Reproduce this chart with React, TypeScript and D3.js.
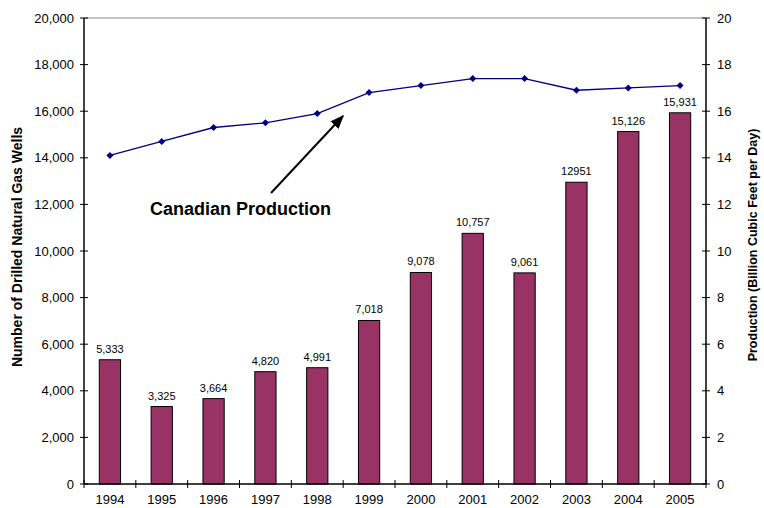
import React from "react";
import * as d3 from "d3";

const years = ["1994", "1995", "1996", "1997", "1998", "1999", "2000", "2001", "2002", "2003", "2004", "2005"];
const wells = [5333, 3325, 3664, 4820, 4991, 7018, 9078, 10757, 9061, 12951, 15126, 15931];
const wellLabels = ["5,333", "3,325", "3,664", "4,820", "4,991", "7,018", "9,078", "10,757", "9,061", "12951", "15,126", "15,931"];
const production = [14.1, 14.7, 15.3, 15.5, 15.9, 16.8, 17.1, 17.4, 17.4, 16.9, 17.0, 17.1];
const leftTicks = [0, 2000, 4000, 6000, 8000, 10000, 12000, 14000, 16000, 18000, 20000];
const rightTicks = [0, 2, 4, 6, 8, 10, 12, 14, 16, 18, 20];

const W = 764;
const H = 508;
const left = 84;
const right = 706;
const top = 18;
const bottom = 484;
const FONT = "'Liberation Sans', Arial, sans-serif";

export default function App() {
  const x = d3.scaleBand<string>().domain(years).range([left, right]);
  const yL = d3.scaleLinear().domain([0, 20000]).range([bottom, top]);
  const yR = d3.scaleLinear().domain([0, 20]).range([bottom, top]);
  const barW = x.bandwidth() * 0.41;
  const fmt = d3.format(",");
  const line = d3
    .line<number>()
    .x((_, i) => (x(years[i]) as number) + x.bandwidth() / 2)
    .y((d) => yR(d));

  const boundaries = d3.range(years.length + 1).map((i) => left + i * x.step());

  return (
    <svg width={W} height={H} style={{ position: "absolute", left: 0, top: 0 }} fontFamily={FONT}>
      <defs>
        <marker id="arrowHead" viewBox="0 0 10 10" refX="9" refY="5" markerWidth="7" markerHeight="7" orient="auto">
          <path d="M0,1 L10,5 L0,9 Z" fill="#000" />
        </marker>
      </defs>
      <rect width={W} height={H} fill="#fff" />
      {/* plot frame top line */}
      <line x1={left} x2={right} y1={top} y2={top} stroke="#888" strokeWidth={1} />

      {/* bars */}
      {wells.map((v, i) => {
        const cx = (x(years[i]) as number) + x.bandwidth() / 2;
        return (
          <g key={years[i]}>
            <rect
              x={cx - barW / 2}
              y={yL(v)}
              width={barW}
              height={bottom - yL(v)}
              fill="#993366"
              stroke="#000"
              strokeWidth={1}
            />
            <text x={cx} y={yL(v) - 7} textAnchor="middle" fontSize={11} fill="#000">
              {wellLabels[i]}
            </text>
          </g>
        );
      })}

      {/* production line */}
      <path d={line(production) || ""} fill="none" stroke="#000080" strokeWidth={1.3} />
      {production.map((v, i) => {
        const cx = (x(years[i]) as number) + x.bandwidth() / 2;
        const cy = yR(v);
        return (
          <path
            key={"m" + i}
            d={`M${cx},${cy - 3.5} L${cx + 3.5},${cy} L${cx},${cy + 3.5} L${cx - 3.5},${cy} Z`}
            fill="#000080"
          />
        );
      })}

      {/* left axis */}
      <line x1={left} x2={left} y1={top} y2={bottom} stroke="#444" strokeWidth={2} />
      {leftTicks.map((t) => (
        <g key={"l" + t}>
          <line x1={left - 4} x2={left + 4} y1={yL(t)} y2={yL(t)} stroke="#000" />
          <text x={left - 10} y={yL(t) + 4.5} textAnchor="end" fontSize={13} fill="#000">
            {fmt(t)}
          </text>
        </g>
      ))}

      {/* right axis */}
      <line x1={right} x2={right} y1={top} y2={bottom} stroke="#000" strokeWidth={1.5} />
      {rightTicks.map((t) => (
        <g key={"r" + t}>
          <line x1={right - 4} x2={right + 4} y1={yR(t)} y2={yR(t)} stroke="#000" />
          <text x={right + 11} y={yR(t) + 4.5} textAnchor="start" fontSize={13} fill="#000">
            {t}
          </text>
        </g>
      ))}

      {/* x axis */}
      <line x1={left} x2={right} y1={bottom} y2={bottom} stroke="#000" strokeWidth={1.5} />
      {boundaries.map((b, i) => (
        <line key={"xt" + i} x1={b} x2={b} y1={bottom - 4} y2={bottom + 4} stroke="#000" />
      ))}
      {years.map((yr) => (
        <text
          key={"xl" + yr}
          x={(x(yr) as number) + x.bandwidth() / 2}
          y={504}
          textAnchor="middle"
          fontSize={13}
          fill="#000"
        >
          {yr}
        </text>
      ))}

      {/* axis titles */}
      <text
        transform={`translate(22,247) rotate(-90)`}
        textAnchor="middle"
        fontSize={14}
        fontWeight="bold"
        fill="#000"
      >
        Number of Drilled Natural Gas Wells
      </text>
      <text
        transform={`translate(757,245) rotate(-90)`}
        textAnchor="middle"
        fontSize={12.5}
        fontWeight="bold"
        fill="#000"
      >
        Production (Billion Cubic Feet per Day)
      </text>

      {/* annotation */}
      <line x1={271} y1={193} x2={343} y2={116} stroke="#000" strokeWidth={2} markerEnd="url(#arrowHead)" />
      <text x={150} y={215} fontSize={18} fontWeight="bold" fill="#000">
        Canadian Production
      </text>
    </svg>
  );
}
